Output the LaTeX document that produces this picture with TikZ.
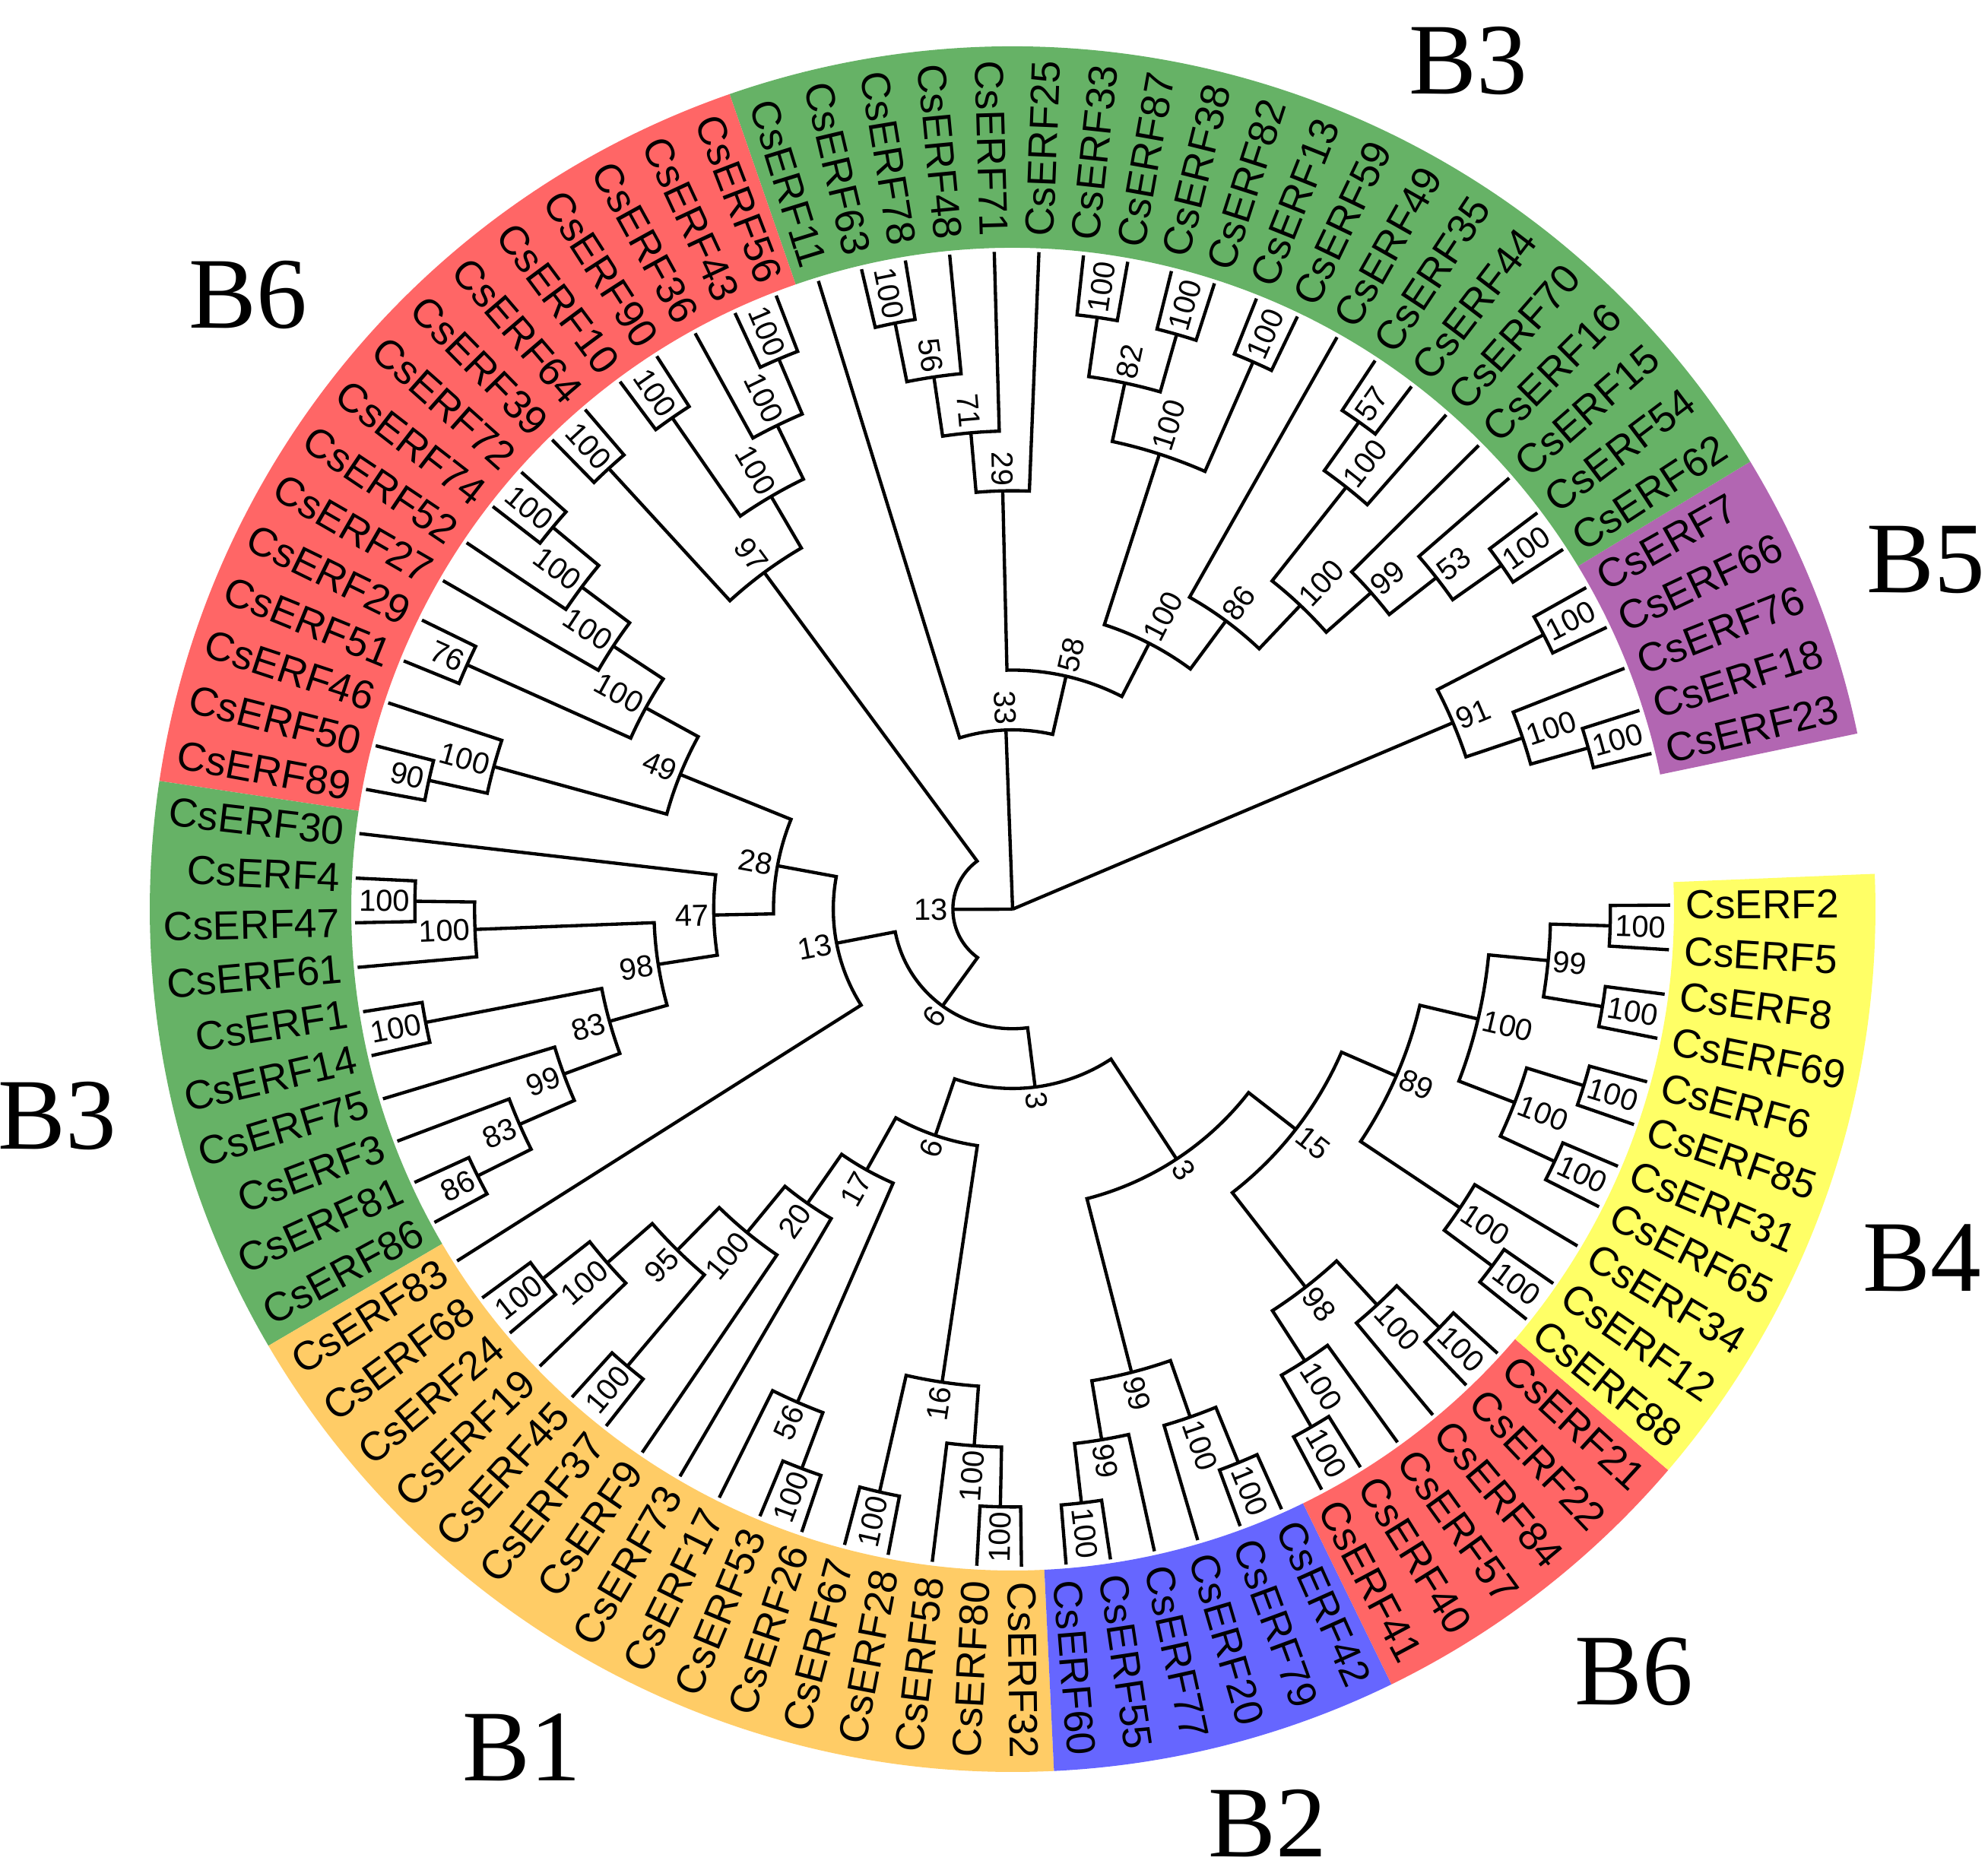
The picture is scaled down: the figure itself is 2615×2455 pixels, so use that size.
\documentclass[tikz,border=0pt]{standalone}
\usepackage{fontspec}
\setmainfont{Liberation Sans}
\newfontfamily\serfam{Liberation Serif}
\definecolor{cgreen}{RGB}{102,178,102}
\definecolor{cred}{RGB}{255,102,102}
\definecolor{corange}{RGB}{255,204,102}
\definecolor{cblue}{RGB}{102,102,255}
\definecolor{cyellow}{RGB}{255,255,102}
\definecolor{cpurple}{RGB}{178,102,178}
\tikzset{
  br/.style={line width=1.3pt},
  lf/.style={font=\fontsize{16}{16}\selectfont, inner sep=0pt},
  bs/.style={font=\fontsize{12}{12}\selectfont, inner sep=0pt},
  cl/.style={font=\serfam\fontsize{40}{40}\selectfont, inner sep=0pt},
}
\newcommand\Lf[2]{%
  \pgfmathsetmacro\tmpa{13.7+3.895*#2}%
  \expandafter\xdef\csname A#1\endcsname{\tmpa}%
  \expandafter\xdef\csname R#1\endcsname{865}%
  \pgfmathtruncatemacro\side{cos(\tmpa)>=0}%
  \ifnum\side=1
    \node[lf,anchor=west,rotate=\tmpa] (L#1) at (\tmpa:885) {CsERF#1};%
  \else
    \pgfmathsetmacro\rot{\tmpa+180}%
    \node[lf,anchor=east,rotate=\rot] (L#1) at (\tmpa:885) {CsERF#1};%
  \fi}
\newcommand\Nd[5]{%
  \pgfmathsetmacro\ra{865-78.64*#2}%
  \edef\aa{\csname A#3\endcsname}\edef\ab{\csname A#4\endcsname}%
  \edef\rA{\csname R#3\endcsname}\edef\rB{\csname R#4\endcsname}%
  \pgfmathsetmacro\am{(\aa+\ab)/2}%
  \draw[br] (\aa:\rA) -- (\aa:\ra) arc[start angle=\aa, end angle=\ab, radius=\ra] -- (\ab:\rB);%
  \coordinate (N#1) at (\am:\ra);%
  \expandafter\xdef\csname A#1\endcsname{\am}%
  \expandafter\xdef\csname R#1\endcsname{\ra}%
  \pgfmathsetmacro\rl{\ra+6}%
  \pgfmathtruncatemacro\side{cos(\am)>=0}%
  \ifnum\side=1
    \node[bs,anchor=west,rotate=\am] at (\am:\rl) {#5};%
  \else
    \pgfmathsetmacro\rot{\am+180}%
    \node[bs,anchor=east,rotate=\rot] at (\am:\rl) {#5};%
  \fi}
\newcommand\Band[3]{%
  \fill[#1] (#2:870) arc[start angle=#2, end angle=#3, radius=870] -- (#3:1135) arc[start angle=#3, end angle=#2, radius=1135] -- cycle;}
\begin{document}
\begin{tikzpicture}[x=0.3pt,y=0.3pt]
\useasboundingbox (-1332,-1259) rectangle (1283,1196);
\Band{cpurple}{11.75}{31.25}
\Band{cgreen}{31.25}{109.15}
\Band{cred}{109.15}{171.45}
\Band{cgreen}{171.45}{210.4}
\Band{corange}{210.4}{272.75}
\Band{cblue}{272.75}{296.05}
\Band{cred}{296.05}{319.45}
\Band{cyellow}{319.45}{362.35}
\foreach \n/\i in {23/0,18/1,76/2,66/3,7/4,62/5,54/6,15/7,16/8,70/9,44/10,35/11,49/12,59/13,13/14,82/15,38/16,87/17,33/18,25/19,71/20,48/21,78/22,63/23,11/24,56/25,43/26,36/27,90/28,10/29,64/30,39/31,72/32,74/33,52/34,27/35,29/36,51/37,46/38,50/39,89/40,30/41,4/42,47/43,61/44,1/45,14/46,75/47,3/48,81/49,86/50,83/51,68/52,24/53,19/54,45/55,37/56,9/57,73/58,17/59,53/60,26/61,67/62,28/63,58/64,80/65,32/66,60/67,55/68,77/69,20/70,79/71,42/72,41/73,40/74,57/75,84/76,22/77,21/78,88/79,12/80,34/81,65/82,31/83,85/84,6/85,69/86,8/87,5/88,2/89}{\Lf{\n}{\i}}
% B5
\Nd{a1}{1}{23}{18}{100}
\Nd{a2}{2}{a1}{76}{100}
\Nd{a3}{1}{66}{7}{100}
\Nd{a4}{3}{a2}{a3}{91}
% B3 top
\Nd{b1}{1}{62}{54}{100}
\Nd{b2}{2}{b1}{15}{53}
\Nd{b3}{3}{b2}{16}{99}
\Nd{b4}{1}{44}{35}{57}
\Nd{b5}{2}{70}{b4}{100}
\Nd{b6}{4}{b3}{b5}{100}
\Nd{b7}{5}{b6}{49}{86}
\Nd{b8}{1}{59}{13}{100}
\Nd{b9}{1}{82}{38}{100}
\Nd{b10}{1}{87}{33}{100}
\Nd{b11}{2}{b9}{b10}{82}
\Nd{b12}{3}{b8}{b11}{100}
\Nd{b13}{6}{b7}{b12}{100}
\Nd{b14}{1}{78}{63}{100}
\Nd{b15}{2}{48}{b14}{56}
\Nd{b16}{3}{71}{b15}{71}
\Nd{b17}{4}{25}{b16}{29}
\Nd{b18}{7}{b13}{b17}{58}
\Nd{b19}{8}{b18}{11}{33}
% B6 top
\Nd{c1}{1}{56}{43}{100}
\Nd{c2}{2}{c1}{36}{100}
\Nd{c3}{1}{90}{10}{100}
\Nd{c4}{3}{c2}{c3}{100}
\Nd{c5}{1}{64}{39}{100}
\Nd{c6}{4}{c4}{c5}{97}
\Nd{c7}{1}{72}{74}{100}
\Nd{c8}{2}{c7}{52}{100}
\Nd{c9}{3}{c8}{27}{100}
\Nd{c10}{1}{29}{51}{76}
\Nd{c11}{4}{c9}{c10}{100}
\Nd{c12}{1}{50}{89}{90}
\Nd{c13}{2}{46}{c12}{100}
\Nd{c14}{5}{c11}{c13}{49}
% B3 left
\Nd{d1}{1}{4}{47}{100}
\Nd{d2}{2}{d1}{61}{100}
\Nd{d3}{1}{1}{14}{100}
\Nd{d4}{1}{81}{86}{86}
\Nd{d5}{2}{3}{d4}{83}
\Nd{d6}{3}{75}{d5}{99}
\Nd{d7}{4}{d3}{d6}{83}
\Nd{d8}{5}{d2}{d7}{98}
\Nd{d9}{6}{30}{d8}{47}
\Nd{d10}{7}{c14}{d9}{28}
\Nd{d11}{8}{d10}{83}{13}
% B1
\Nd{e1}{1}{68}{24}{100}
\Nd{e2}{2}{e1}{19}{100}
\Nd{e3}{1}{45}{37}{100}
\Nd{e4}{3}{e2}{e3}{95}
\Nd{e5}{4}{e4}{9}{100}
\Nd{e6}{5}{e5}{73}{20}
\Nd{e7}{1}{53}{26}{100}
\Nd{e8}{2}{17}{e7}{56}
\Nd{e9}{6}{e6}{e8}{17}
\Nd{e10}{1}{67}{28}{100}
\Nd{e11}{1}{80}{32}{100}
\Nd{e12}{2}{58}{e11}{100}
\Nd{e13}{3}{e10}{e12}{16}
\Nd{e14}{7}{e9}{e13}{6}
% B2
\Nd{f1}{1}{60}{55}{100}
\Nd{f2}{2}{f1}{77}{99}
\Nd{f3}{1}{79}{42}{100}
\Nd{f4}{2}{20}{f3}{100}
\Nd{f5}{3}{f2}{f4}{99}
% B6 bottom
\Nd{g1}{1}{41}{40}{100}
\Nd{g2}{2}{g1}{57}{100}
\Nd{g3}{1}{22}{21}{100}
\Nd{g4}{2}{84}{g3}{100}
\Nd{g5}{3}{g2}{g4}{98}
% B4
\Nd{h1}{1}{88}{12}{100}
\Nd{h2}{2}{h1}{34}{100}
\Nd{h3}{1}{65}{31}{100}
\Nd{h4}{1}{85}{6}{100}
\Nd{h5}{2}{h3}{h4}{100}
\Nd{h6}{1}{69}{8}{100}
\Nd{h7}{1}{5}{2}{100}
\Nd{h8}{2}{h6}{h7}{99}
\Nd{h9}{3}{h5}{h8}{100}
\Nd{h10}{4}{h2}{h9}{89}
\Nd{h11}{5}{g5}{h10}{15}
\Nd{h12}{6}{f5}{h11}{3}
\Nd{h13}{8}{e14}{h12}{3}
\Nd{h14}{9}{d11}{h13}{6}
\Nd{h15}{10}{c6}{h14}{13}
% root
\coordinate (root) at (0,0);
\draw[br] (root) -- (Na4);
\draw[br] (root) -- (Nb19);
\draw[br] (root) -- (Nh15);
% clade labels
\node[cl] (k1) at (599,1116) {B3};
\node[cl] (k2) at (-1006,808) {B6};
\node[cl] (k3) at (1201,460) {B5};
\node[cl] (k4) at (-1257,-272) {B3};
\node[cl] (k5) at (1196,-459) {B4};
\node[cl] (k6) at (817,-1003) {B6};
\node[cl] (k7) at (-646,-1103) {B1};
\node[cl] (k8) at (335,-1203) {B2};
\end{tikzpicture}
\end{document}
